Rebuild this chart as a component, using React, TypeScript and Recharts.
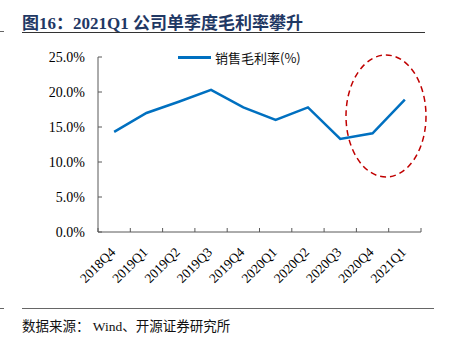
import { LineChart, Line, XAxis, YAxis, Legend } from "recharts";

const quarters = [
  "2018Q4", "2019Q1", "2019Q2", "2019Q3", "2019Q4",
  "2020Q1", "2020Q2", "2020Q3", "2020Q4", "2021Q1",
];
const grossMargin = [14.3, 17.0, 18.6, 20.3, 17.8, 16.0, 17.8, 13.3, 14.1, 18.9];
const yTicks = [0, 5, 10, 15, 20, 25];

const data = quarters.map((q, i) => ({ q, margin: grossMargin[i] }));

const FONT = '"Liberation Serif", "Times New Roman", "Noto Sans CJK SC", serif';
const AXIS = "#595959";
const PLOT_W = 323;
const HALF_BAND = PLOT_W / quarters.length / 2;

// label at band centre, tick marks on the band edges (pointing up into the plot)
const XTick = ({ x, y, payload, index }: { x?: number; y?: number; payload?: { value: string }; index?: number }) => {
  const cx = x ?? 0;
  const axisY = (y ?? 0) - 20;
  return (
    <g>
      <line x1={cx - HALF_BAND} x2={cx - HALF_BAND} y1={axisY} y2={axisY - 4} stroke={AXIS} />
      {index === quarters.length - 1 && (
        <line x1={cx + HALF_BAND} x2={cx + HALF_BAND} y1={axisY} y2={axisY - 4} stroke={AXIS} />
      )}
      <g transform={`translate(${cx + 2},${axisY + 21})`}>
        <text textAnchor="end" transform="rotate(-45)" fontSize={13.5} fill="#000" fontFamily={FONT}>
          {payload?.value}
        </text>
      </g>
    </g>
  );
};

const LegendContent = () => (
  <div style={{ display: "flex", alignItems: "center", fontFamily: '"Noto Sans CJK SC", sans-serif', fontSize: 13, color: "#111" }}>
    <span style={{ display: "inline-block", width: 33, height: 3, background: "#0070C0", marginRight: 4 }} />
    <span>销售毛利率(%)</span>
  </div>
);

export default function App() {
  return (
    <div
      style={{
        position: "absolute",
        left: 0,
        top: 0,
        width: 453,
        height: 338,
        background: "#fff",
        overflow: "hidden",
      }}
    >
      <div style={{ position: "absolute", left: 0, top: 31, width: 4, height: 1, background: "#666" }} />
      <div
        style={{
          position: "absolute",
          left: 22,
          top: 9,
          fontFamily: '"Liberation Serif", "Noto Sans CJK SC", serif',
          fontWeight: 700,
          fontSize: 17,
          color: "#1F3864",
          whiteSpace: "nowrap",
        }}
      >
        图16：2021Q1 公司单季度毛利率攀升
      </div>
      <div style={{ position: "absolute", left: 22, top: 32, width: 403, height: 1, background: "#333" }} />

      <div style={{ position: "absolute", left: 0, top: 0 }}>
        <LineChart
          width={453}
          height={338}
          data={data}
          margin={{ top: 57, right: 32, left: 38, bottom: 36 }}
        >
          <XAxis
            dataKey="q"
            scale="band"
            height={70}
            interval={0}
            tickSize={0}
            tickMargin={20}
            axisLine={{ stroke: AXIS }}
            tickLine={false}
            tick={<XTick />}
          />
          <YAxis
            width={60}
            domain={[0, 25]}
            ticks={yTicks}
            tickSize={-4}
            tickMargin={17}
            axisLine={{ stroke: AXIS }}
            tickLine={{ stroke: AXIS }}
            tickFormatter={(v: number) => `${v.toFixed(1)}%`}
            tick={{ fontSize: 14, fill: "#000", fontFamily: FONT }}
          />
          <Legend
            layout="horizontal"
            verticalAlign="middle"
            align="center"
            content={<LegendContent />}
            wrapperStyle={{ position: "absolute", top: 48, left: 178, width: "auto" }}
          />
          <Line
            type="linear"
            dataKey="margin"
            name="销售毛利率(%)"
            stroke="#0070C0"
            strokeWidth={2.5}
            dot={false}
            isAnimationActive={false}
          />
        </LineChart>
      </div>

      <svg style={{ position: "absolute", left: 0, top: 0 }} width={453} height={338} pointerEvents="none">
        <ellipse cx={386} cy={116} rx={40} ry={61} fill="none" stroke="#C00000" strokeWidth={1.5} strokeDasharray="6 4" />
      </svg>

      <div style={{ position: "absolute", left: 0, top: 308, width: 4, height: 1, background: "#666" }} />
      <div style={{ position: "absolute", left: 22, top: 308, width: 412, height: 1, background: "#666" }} />
      <div
        style={{
          position: "absolute",
          left: 22,
          top: 315,
          fontFamily: '"Liberation Serif", "Noto Sans CJK SC", serif',
          fontSize: 13.5,
          color: "#111",
          whiteSpace: "pre",
        }}
      >
        数据来源： Wind、开源证券研究所
      </div>
    </div>
  );
}
